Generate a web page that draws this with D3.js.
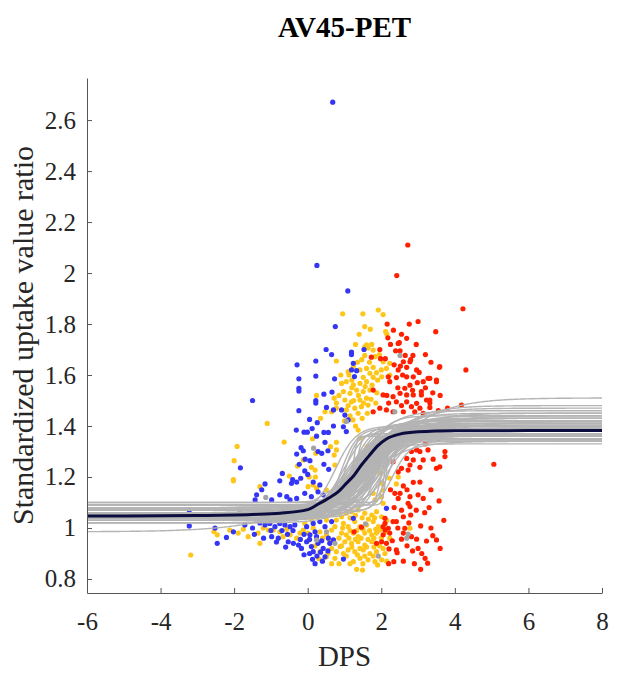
<!DOCTYPE html>
<html>
<head>
<meta charset="utf-8">
<script src="https://cdn.jsdelivr.net/npm/d3@7"></script>
<style>
  html, body { margin: 0; padding: 0; background: #fff; }
  svg { display: block; font-family: "Liberation Serif", "Times New Roman", serif; }
  .axis path, .axis line { stroke: #555; stroke-width: 1; }
  .axis text { fill: #262626; font-size: 25px; font-family: "Liberation Serif", "Times New Roman", serif; }
</style>
</head>
<body>
<div id="chart"></div>
<script>
// AV45-PET: SUVR vs disease progression score, per-group scatter + bootstrap sigmoid fits

var xTicks = [-6, -4, -2, 0, 2, 4, 6, 8];
var yTicks = [0.8, 1, 1.2, 1.4, 1.6, 1.8, 2, 2.2, 2.4, 2.6];

var bluePts = [
  [0.68,2.67],[0.25,2.03],[1.09,1.93],
  [0.75,1.79],[0.50,1.70],[0.65,1.68],[0.22,1.655],[-0.29,1.64],[-0.24,1.585],[0.22,1.596],[0.73,1.585],
  [1.19,1.69],[1.19,1.68],[1.53,1.70],[1.24,1.646],[1.19,1.62],[1.33,1.617],[1.27,1.594],
  [-1.50,1.50],[-1.83,1.236],[-0.24,1.548],[-0.24,1.537],[-0.24,1.46],[0.22,1.50],[0.22,1.49],[0.44,1.525],
  [0.66,1.533],[0.51,1.473],[0.70,1.463],[0.05,1.426],[0.26,1.413],[0.12,1.39],[-0.31,1.384],[-0.10,1.376],
  [-0.01,1.376],[0.44,1.375],[0.56,1.375],[0.24,1.36],[0.70,1.40],[0.47,1.336],[-0.18,1.315],[-0.12,1.303],
  [0.28,1.30],[0.38,1.293],[0.55,1.303],[-0.30,1.29],[-0.07,1.27],[0.06,1.264],[-0.23,1.25],[-0.08,1.224],
  [0.0,1.21],[-0.69,1.214],[-0.41,1.19],[-0.19,1.195],[0.44,1.25],[0.57,1.23],
  [0.92,1.463],[1.01,1.443],[1.10,1.424],[0.97,1.397],[1.05,1.378],
  [-1.16,1.173],[-1.25,1.15],[-1.39,1.13],[-0.76,1.13],[-0.57,1.123],[-0.98,1.11],[-1.43,1.11],[-0.76,1.185],
  [-0.44,1.175],[-0.30,1.18],[-0.08,1.136],[0.10,1.123],[0.28,1.142],[0.42,1.13],[0.15,1.18],[0.33,1.169],
  [-0.48,1.11],[-0.30,1.116],
  [-3.22,1.008],[-3.22,1.07],[-2.52,1.00],[-2.46,0.94],[-2.21,0.963],[-2.02,0.985],[-1.71,1.012],[-1.16,1.012],
  [-1.03,1.018],[-0.89,1.005],[-0.76,1.018],[-0.62,1.012],[-0.48,1.005],[-0.35,1.012],[-0.98,0.966],[-0.80,0.96],
  [-0.53,0.946],[-0.39,0.94],[-0.25,0.933],[-0.17,0.92],[-0.03,0.946],[0.10,0.927],[0.15,0.907],[0.28,0.94],
  [0.42,0.92],[0.47,0.887],[0.13,0.877],[-0.03,1.005],[0.15,1.018],[0.33,1.025],[0.47,1.005],[0.65,1.025],
  [0.06,0.973],[0.24,0.966],[0.56,0.96],[0.70,0.953],[0.97,0.878],[1.24,1.038],[2.14,1.077],
  [-1.50,1.00],[-1.30,1.02],[-1.0,0.99],[-0.70,0.99],[-0.55,0.975],[-0.40,0.99],[-0.20,0.955],[-0.10,0.975],
  [0.05,0.955],[0.20,0.985],[0.38,0.95],[0.60,0.94],[0.35,0.905],[0.05,0.90],[-0.10,0.895],[0.25,0.89],
  [0.55,0.91],[-0.60,0.925],[-0.85,0.945],[-1.20,0.96],[-1.45,0.975],[0.20,0.86],[0.40,0.87]
];

var yellowPts = [
  [0.78,1.655],[0.95,1.84],[1.5,1.84],[1.92,1.855],[2.05,1.837],[2.12,1.77],[2.15,1.76],[1.30,1.72],[1.55,1.71],
  [1.64,1.706],[1.74,1.72],[1.55,1.677],[1.10,1.613],[1.24,1.632],
  [1.42,1.62],[1.60,1.626],[1.69,1.607],[1.78,1.63],[1.87,1.609],[2.01,1.593],[2.14,1.626],[2.23,1.60],[1.51,1.591],
  [1.78,1.591],[1.60,1.718],[1.78,1.698],[1.83,1.672],[2.05,1.652],[2.23,1.646],
  [-1.10,1.41],[-0.64,1.337],[-1.92,1.32],[-2.0,1.264],[-2.02,1.19],[0.24,1.52],[0.72,1.509],[0.78,1.49],[0.47,1.456],
  [0.65,1.456],[0.78,1.47],[0.35,1.43],[0.13,1.35],[0.78,1.336],[0.22,1.293],[0.62,1.319],[0.72,1.286],[0.78,1.306],
  [-0.12,1.267],[0.10,1.238],[0.20,1.227],[-0.28,1.243],[-0.50,1.204],[0.04,1.20],[0.21,1.20],[0.74,1.247],
  [0.92,1.567],[1.05,1.574],[1.24,1.561],[1.42,1.567],[1.60,1.574],[0.97,1.535],[1.15,1.528],[1.33,1.541],[1.51,1.535],
  [1.69,1.541],[1.01,1.502],[1.19,1.495],[1.42,1.502],[1.60,1.509],[1.28,1.47],[1.46,1.476],[1.64,1.482],[1.05,1.463],
  [1.37,1.45],[1.23,1.424],[1.37,1.384],[1.42,1.353],[1.61,1.318],[1.69,1.278],[1.50,1.24],[1.88,1.255],[1.96,1.216],
  [2.46,1.20],[2.23,1.195],
  [-2.02,1.185],[-1.30,1.162],[0.01,1.162],[0.15,1.169],[0.24,1.156],[0.51,1.149],
  [-2.55,0.986],[-2.46,0.973],[-3.18,0.894],[-1.89,0.98],[-1.62,0.966],[-1.75,0.995],[-1.30,0.94],[-1.35,0.98],
  [-1.21,1.0],[-1.07,0.992],[-0.94,0.992],[-0.76,0.985],[-0.57,0.995],[-0.67,0.966],[-0.48,0.973],[-0.30,0.96],
  [-0.21,0.98],[-2.12,0.992],
  [-0.12,0.992],[0.01,0.98],[0.15,1.0],[0.33,0.985],[0.51,0.973],[0.65,0.992],[0.74,1.005],[-0.08,1.018],[0.10,1.031],
  [0.28,1.044],[0.51,1.031],[0.70,1.058],[0.78,1.031],[0.78,1.064],
  [0.33,0.907],[0.65,0.92],[0.78,0.907],[0.51,0.887],[0.74,0.881],
  [0.92,1.044],[1.05,1.058],[1.19,1.064],[1.37,1.071],[1.55,1.058],[1.74,1.051],[1.87,1.064],[2.01,1.044],[0.97,1.018],
  [1.10,1.005],[1.28,1.025],[1.42,1.005],[1.60,1.012],[1.78,1.025],[1.92,1.005],[1.96,0.992],[0.92,0.98],[1.05,0.973],
  [1.24,0.98],[1.37,0.966],[1.55,0.98],[1.74,0.973],[1.87,0.98],[2.23,0.96],[1.01,0.946],[1.19,0.94],[1.37,0.946],
  [1.55,0.933],[1.74,0.946],[1.10,0.914],[1.28,0.907],[1.51,0.914],[1.69,0.90],[1.87,0.907],[2.05,0.92],[1.42,0.881],
  [1.64,0.875],[1.83,0.868],[2.01,0.875],[1.24,0.868],[0.88,0.927],[0.97,0.90],[1.33,0.838],[1.49,0.835],
  [2.01,1.175],[2.05,1.149],[2.01,1.123],[2.05,1.097],[1.78,1.136],[1.83,1.11],[2.41,1.173],[2.78,0.999],
  [1.12,1.60],[1.35,1.65],[1.47,1.66],[1.68,1.65],[1.95,1.68],[2.0,1.62],[1.20,1.55],[1.38,1.52],[1.56,1.555],
  [1.75,1.56],[1.88,1.53],[1.90,1.58],[1.10,1.48],[1.25,1.50],[1.52,1.49],[1.72,1.505],[1.85,1.49],[1.15,1.44],
  [1.48,1.43],[1.62,1.45],[1.30,1.40],[1.00,1.42],[0.90,1.60],[0.85,1.52],[1.70,1.78],[1.40,1.76],[1.55,1.79],
  [1.20,1.58],
  [0.85,1.06],[1.0,1.08],[1.15,1.04],[1.30,1.05],[1.48,1.04],[1.65,1.035],[1.82,1.04],[2.15,1.03],[0.95,1.0],
  [1.15,0.99],[1.33,0.99],[1.50,0.995],[1.68,0.99],[1.85,0.995],[2.12,0.985],[0.85,0.96],[1.12,0.96],[1.30,0.955],
  [1.45,0.96],[1.64,0.955],[1.80,0.96],[2.0,0.96],[0.92,0.93],[1.20,0.925],[1.42,0.92],[1.60,0.925],[1.80,0.925],
  [1.95,0.93],[1.05,0.89],[1.35,0.895],[1.55,0.89],[1.78,0.89],[2.10,0.90],[1.15,0.86],[1.50,0.86],[1.90,0.855],
  [2.15,0.87],[0.60,0.95],[0.40,0.96],[0.20,0.93],[0.0,0.95],[0.55,0.90],[0.30,0.88],[0.65,0.86],[0.85,0.86]
];

var redPts = [
  [2.72,2.11],[2.42,1.99],[4.22,1.86],[4.30,1.62],[5.06,1.25],
  [2.16,1.80],[2.76,1.80],[3.0,1.81],[3.48,1.77],[2.18,1.746],[2.49,1.727],[2.69,1.744],[1.96,1.70],[1.73,1.67],
  [2.39,1.695],[2.51,1.695],[1.98,1.664],[2.11,1.664],[2.65,1.677],[2.86,1.677],[2.60,1.652],[2.80,1.66],[2.52,1.635],
  [2.69,1.63],[2.46,1.62],[2.96,1.62],[3.03,1.61],[3.58,1.63],[2.33,1.776],[2.46,1.724],[2.78,1.652],[3.59,1.633],
  [2.19,1.593],[2.41,1.59],[2.69,1.593],[2.87,1.593],[3.27,1.587],[3.50,1.58],[3.32,1.587],[3.09,1.535],[3.32,1.502],
  [3.32,1.49],
  [2.23,1.574],[2.64,1.548],[2.78,1.56],[3.14,1.574],[3.50,1.574],[1.78,1.541],[2.05,1.522],[2.32,1.515],[2.51,1.528],
  [2.69,1.522],[2.87,1.522],[3.09,1.522],[2.41,1.495],[2.69,1.495],[2.96,1.489],[3.23,1.502],[2.82,1.476],[3.05,1.47],
  [3.32,1.473],[1.96,1.47],[2.14,1.463],[1.78,1.456],[2.32,1.456],[2.60,1.456],[2.91,1.456],[3.14,1.45],[4.18,1.482],
  [2.82,1.30],[3.05,1.30],[3.27,1.306],[3.73,1.30],[2.69,1.273],[2.87,1.267],[3.14,1.267],[3.41,1.27],[2.78,1.247],
  [2.55,1.234],[2.73,1.227],[3.05,1.238],[3.50,1.234],[2.32,1.26],[2.46,1.22],[3.73,1.28],[2.96,1.306],[3.59,1.24],
  [2.87,1.179],[2.60,1.165],[2.37,1.136],[2.46,1.116],[2.78,1.123],[3.0,1.13],[3.14,1.116],[2.51,1.136],[3.57,1.106],
  [2.73,1.097],[2.78,1.084],[3.18,1.06],[2.80,1.051],[2.60,1.044],[2.10,1.038],[2.32,1.025],[2.41,1.025],[3.07,1.008],
  [2.05,1.005],[2.19,0.999],[2.10,0.992],[2.23,0.98],[2.60,0.98],[2.64,0.999],[2.82,0.966],[2.96,0.956],[3.23,0.949],
  [2.55,0.956],[2.05,0.973],[1.87,0.94],[2.01,0.946],[2.14,0.94],[2.21,0.918],[2.41,0.914],[2.43,0.903],[2.85,0.91],
  [3.0,0.92],[3.19,0.881],[3.26,0.862],[3.07,0.838],[2.34,0.868],[1.26,0.985],[1.46,1.003],[2.10,1.018],[3.50,0.953],
  [2.25,1.72],[2.55,1.76],[2.95,1.72],[3.2,1.68],[3.35,1.65],[2.35,1.64],[2.58,1.60],[2.98,1.57],[3.20,1.55],
  [2.45,1.55],[2.85,1.54],[3.40,1.53],[3.60,1.52],[2.15,1.52],[2.55,1.48],[2.2,1.49],[3.55,1.46],[3.8,1.47],
  [2.35,1.08],[2.55,1.07],[2.95,1.07],[3.3,1.08],[2.25,1.15],[2.70,1.15],[3.05,1.18],[3.35,1.15],[2.45,1.0],
  [2.75,1.02],[3.35,1.0],[2.3,0.95],[2.7,0.93],[3.1,0.9],[2.6,0.87],[2.9,0.86],[3.6,0.92],[3.4,0.97],[3.7,1.03],
  [2.2,0.86],[3.2,1.33],[3.55,1.35],[2.9,1.35]
];

var greyPts = [
  [-1.14,1.12],[0.16,1.313],[2.51,1.677],[1.57,1.016],[2.73,0.976],[2.69,0.96],[1.92,0.89],[0.51,0.985],
  [0.74,0.94],[0.24,0.953],[2.37,1.456],[1.05,1.418],[0.28,1.051],[-1.85,1.07]
];

// bootstrap sigmoid fits: lower plateau, upper plateau, midpoint, steepness
var fitLow  = [1.05,1.04,1.06,1.03,1.07,1.05,1.08,1.04,1.06,1.02,1.09,1.08,1.10,1.09,1.07,1.05,1.03,1.04,0.985,1.06,
               1.05,1.07,1.06,1.05,1.04,1.08,1.03,1.07,1.05,1.09,1.04,1.06,1.02,1.08,1.06,1.05,1.07,1.04,1.10,1.03,
               1.06,1.05,1.09,1.04,1.07,1.08,1.02,1.06,
               1.07,1.05,1.08,1.04,1.06,1.09,1.05,1.07,1.03,1.06,1.08,1.05,1.07,1.04,1.09,1.06,1.05,1.08,1.06,1.04,
               1.07,1.05,1.09,1.06,1.08,1.04,1.07,1.05,1.06,1.08,1.03,1.07,1.05,1.09,1.06,1.04,1.08,1.06,1.07,1.05];
var fitHigh = [1.38,1.37,1.39,1.36,1.40,1.35,1.41,1.38,1.42,1.34,1.37,1.36,1.35,1.38,1.34,1.45,1.44,1.51,1.42,1.40,
               1.39,1.37,1.43,1.36,1.35,1.39,1.37,1.42,1.40,1.44,1.33,1.38,1.39,1.35,1.47,1.41,1.36,1.43,1.40,1.38,
               1.34,1.46,1.39,1.37,1.38,1.43,1.36,1.41,
               1.36,1.39,1.41,1.35,1.37,1.40,1.43,1.34,1.38,1.36,1.42,1.39,1.37,1.41,1.36,1.44,1.35,1.38,1.40,1.37,
               1.39,1.42,1.36,1.45,1.38,1.34,1.40,1.37,1.43,1.39,1.36,1.41,1.38,1.35,1.42,1.39,1.37,1.48,1.40,1.36];
var fitMid  = [1.45,1.35,1.55,1.25,1.65,1.15,1.75,1.05,1.85,1.40,1.30,1.22,2.10,2.15,2.00,1.60,1.70,1.90,1.20,0.75,
               0.90,1.00,1.50,1.80,1.95,2.25,1.60,1.40,1.10,1.55,1.30,1.70,1.50,1.45,1.75,2.05,1.85,1.25,1.60,0.95,
               2.30,1.35,1.95,1.55,1.20,2.10,1.75,1.00,
               1.30,1.50,1.65,1.10,1.40,1.80,1.55,1.20,1.70,1.35,1.90,1.45,1.60,1.25,2.00,1.50,1.15,1.75,1.40,1.65,
               1.85,1.30,2.20,1.55,1.45,1.05,1.70,1.35,1.60,1.95,1.25,1.50,1.80,1.40,1.65,2.05,1.55,1.70,1.20,1.45];
var fitRate = [2.2,2.5,2.0,3.0,1.8,3.5,2.6,2.8,3.2,1.6,12,20,15,20,10,1.5,1.4,1.2,0.9,3.5,
               4.5,6,2.4,3.8,2.8,5,2.0,2.9,2.2,3.3,2.6,4.2,1.9,8,1.7,2.3,6,1.8,2.7,2.4,
               4,2.1,3.6,3.0,2.6,2.0,2.2,3.0,
               2.8,2.3,2.1,3.2,2.6,2.4,1.9,3.5,2.5,3.0,2.2,2.7,2.0,3.4,2.9,1.8,4.0,2.6,2.4,3.1,
               2.3,2.8,3.3,2.0,2.5,3.6,2.2,2.9,2.1,2.7,3.0,2.4,2.6,5,1.9,3.2,2.5,1.6,3.8,2.7];

// group mean curve
var meanX = [-6, -3, -1.5, -0.75, 0, 0.3, 0.6, 0.85, 1.05, 1.25, 1.45, 1.65, 1.9, 2.15, 2.5, 3.0, 4.0, 6.0, 8.0];
var meanY = [1.047, 1.049, 1.053, 1.058, 1.072, 1.095, 1.12, 1.145, 1.175, 1.205, 1.245, 1.28, 1.322, 1.35, 1.368,
             1.377, 1.381, 1.382, 1.382];

var margin = { top: 78, right: 17, bottom: 82, left: 87 };
var width = 619 - margin.left - margin.right;
var height = 675 - margin.top - margin.bottom;
var serif = "'Liberation Serif', 'Times New Roman', serif";

var root = d3.select("#chart").append("svg")
    .attr("width", 619)
    .attr("height", 675)
    .attr("font-family", serif);

root.append("rect").attr("width", 619).attr("height", 675).attr("fill", "#fff");

var svg = root.append("g")
    .attr("transform", "translate(" + margin.left + "," + margin.top + ")");

var x = d3.scaleLinear().domain([-6, 8]).range([0, width]);
var y = d3.scaleLinear().domain([0.745, 2.765]).range([height, 0]);

svg.append("clipPath").attr("id", "plot-clip")
    .append("rect").attr("width", width).attr("height", height);

var plot = svg.append("g").attr("clip-path", "url(#plot-clip)");

// Scatter
function drawPts(pts, color) {
    plot.append("g").selectAll("circle")
        .data(pts)
        .enter().append("circle")
        .attr("cx", function (d) { return x(d[0]); })
        .attr("cy", function (d) { return y(d[1]); })
        .attr("r", 2.6)
        .attr("fill", color);
}
drawPts(yellowPts, "#ffc61a");
drawPts(bluePts, "#3535f5");
drawPts(redPts, "#ff2000");
drawPts(greyPts, "#a3a3a3");

// Bootstrap fits
var xs = d3.range(-6, 8.001, 0.04);
var line = d3.line()
    .x(function (d) { return x(d[0]); })
    .y(function (d) { return y(d[1]); });

fitLow.forEach(function (lo, i) {
    var hi = fitHigh[i], m = fitMid[i], k = fitRate[i];
    var pts = xs.map(function (v) { return [v, lo + (hi - lo) / (1 + Math.exp(-k * (v - m)))]; });
    plot.append("path")
        .attr("d", line(pts))
        .attr("fill", "none")
        .attr("stroke", "#b4b4b4")
        .attr("stroke-width", 1.4);
});

// Mean curve
plot.append("path")
    .attr("d", d3.line()
        .x(function (d, i) { return x(meanX[i]); })
        .y(function (d) { return y(d); })
        .curve(d3.curveMonotoneX)(meanY))
    .attr("fill", "none")
    .attr("stroke", "#0c0c3e")
    .attr("stroke-width", 3);

// Axes
svg.append("g").attr("class", "axis")
    .attr("transform", "translate(0," + height + ")")
    .call(d3.axisBottom(x).tickValues(xTicks).tickSizeInner(-5).tickSizeOuter(0).tickPadding(19)
        .tickFormat(function (d) { return String(d); }))
    .attr("font-family", serif).attr("font-size", 25);

svg.append("g").attr("class", "axis")
    .call(d3.axisLeft(y).tickValues(yTicks).tickSizeInner(-5).tickSizeOuter(0).tickPadding(11)
        .tickFormat(function (d) { return String(+d.toFixed(1)); }))
    .attr("font-family", serif).attr("font-size", 25);

// Labels
root.append("text")
    .attr("x", margin.left + width / 2).attr("y", 37)
    .attr("text-anchor", "middle")
    .attr("font-size", 29).attr("font-weight", "bold").attr("fill", "#000")
    .text("AV45-PET");

root.append("text")
    .attr("x", margin.left + width / 2).attr("y", 666)
    .attr("text-anchor", "middle")
    .attr("font-size", 29).attr("fill", "#262626")
    .text("DPS");

root.append("text")
    .attr("transform", "translate(33," + (margin.top + height / 2) + ") rotate(-90)")
    .attr("text-anchor", "middle")
    .attr("font-size", 30).attr("fill", "#262626")
    .text("Standardized uptake value ratio");
</script>
</body>
</html>
